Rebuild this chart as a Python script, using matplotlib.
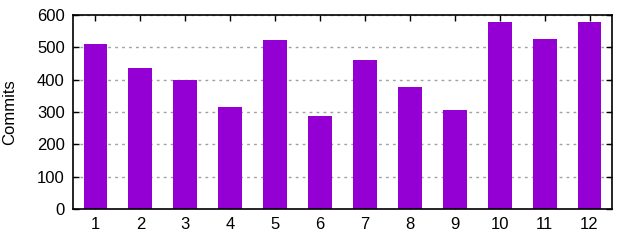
import matplotlib
matplotlib.use("Agg")
import matplotlib.pyplot as plt

plt.rcParams['font.family'] = ['Liberation Sans', 'DejaVu Sans']

months = [1, 2, 3, 4, 5, 6, 7, 8, 9, 10, 11, 12]
commits = [510, 436, 399, 316, 523, 288, 461, 377, 306, 578, 526, 578]

fig = plt.figure(figsize=(6.4, 2.4), dpi=100)
ax = fig.add_axes([73 / 640, 1 - 209 / 240, (612 - 73) / 640, (209 - 15) / 240])

ax.bar(months, commits, width=0.53, color='#9400d3', zorder=2)

ax.set_xlim(0.5, 12.5)
ax.set_ylim(0, 600)
ax.set_xticks(months)
ax.set_yticks(range(0, 601, 100))
ax.yaxis.grid(True, color='#a0a0a0', linestyle=(0, (2, 3)), linewidth=1, zorder=1)

ax.tick_params(direction='in', top=True, right=True, length=4, width=1,
               labelsize=12, pad=6, colors='black')
for s in ax.spines.values():
    s.set_linewidth(1.2)

ax.set_ylabel('Commits', fontsize=12, labelpad=14)

fig.savefig('out.png', dpi=100)
